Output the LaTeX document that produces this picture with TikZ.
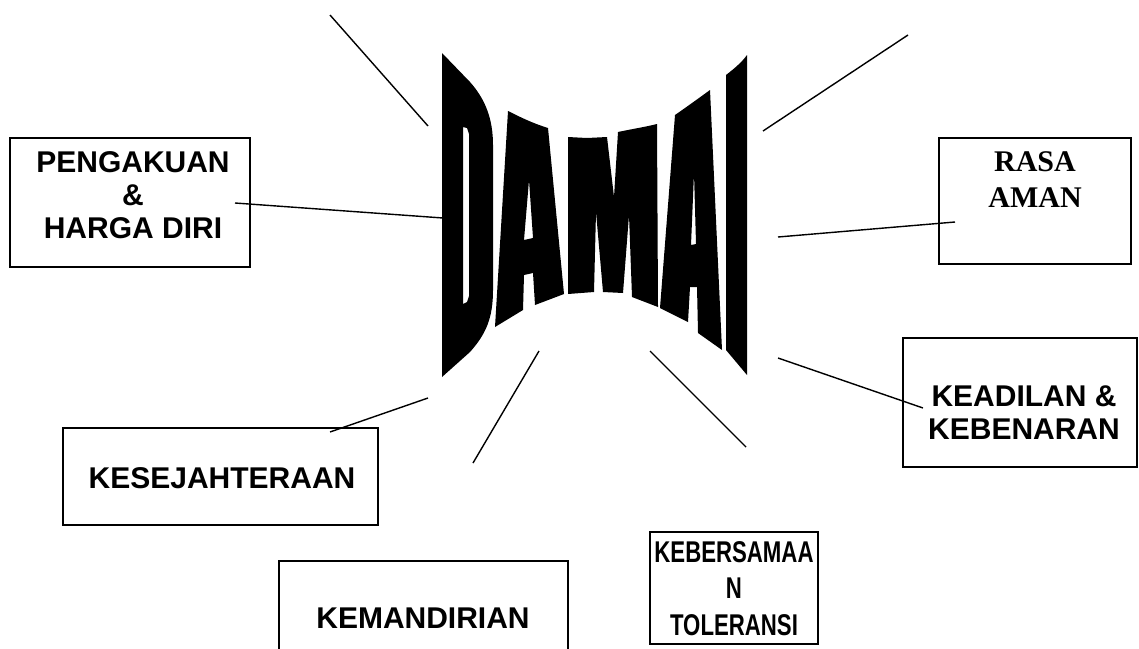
\documentclass[tikz,border=0pt]{standalone}
\usepackage{fontspec}
\usepackage{graphicx}
\newfontfamily\arialf{Liberation Sans}
\newfontfamily\timesf{Liberation Serif}
\newcommand{\narrowtxt}[1]{\scalebox{0.74}[1]{#1}}
\begin{document}
\begin{tikzpicture}[x=1pt,y=-1pt,
  box/.style={draw, line width=1.5pt, inner sep=0pt},
  lbl/.style={font=\arialf\bfseries\fontsize{30}{33}\selectfont, align=center, inner sep=0pt},
  lblserif/.style={font=\timesf\bfseries\fontsize{30}{36}\selectfont, align=center, inner sep=0pt},
  conn/.style={line width=1.4pt},
  glyph/.style={fill=black, even odd rule}]
\useasboundingbox (0,0) rectangle (1139,648);

% boxes
\node[box, minimum width=240pt, minimum height=129pt] (pengBox) at (130,202.5) {};
\node[box, minimum width=192pt, minimum height=126pt] (rasaBox) at (1035,201) {};
\node[box, minimum width=234pt, minimum height=129pt] (adilBox) at (1020,402.5) {};
\node[box, minimum width=315pt, minimum height=97pt] (sejBox) at (220.5,476.5) {};
\node[box, minimum width=289pt, minimum height=110pt] (mandBox) at (423.5,616) {};
\node[box, minimum width=168pt, minimum height=112pt] (samaBox) at (734,588) {};

% texts
\node[lbl] (pengText) at (133,195) {PENGAKUAN\\\&\\HARGA DIRI};
\node[lblserif] (rasaText) at (1035,180) {RASA\\AMAN};
\node[lbl] (adilText) at (1024,412.5) {KEADILAN \&\\KEBENARAN};
\node[lbl] (sejText) at (222,478) {KESEJAHTERAAN};
\node[lbl] (mandText) at (423,618) {KEMANDIRIAN};
\node[lbl, font=\arialf\bfseries\fontsize{30}{36.5}\selectfont] (samaText) at (734,588.5)
  {\narrowtxt{KEBERSAMAA}\\\narrowtxt{N}\\\narrowtxt{TOLERANSI}};

% connector end points
\coordinate (tlA) at (330,15);   \coordinate (tlB) at (428,126);
\coordinate (trA) at (908,35);   \coordinate (trB) at (763,131);
\coordinate (pgA) at (235,203);  \coordinate (pgB) at (443,218);
\coordinate (rsA) at (955,222);  \coordinate (rsB) at (778,237);
\coordinate (adA) at (923,408);  \coordinate (adB) at (778,358);
\coordinate (sjA) at (330,432);  \coordinate (sjB) at (428,398);
\coordinate (mdA) at (473,463);  \coordinate (mdB) at (539,351);
\coordinate (smA) at (746,447);  \coordinate (smB) at (650,351);

\draw[conn] (tlA) -- (tlB);
\draw[conn] (trA) -- (trB);
\draw[conn] (pgA) -- (pgB);
\draw[conn] (rsA) -- (rsB);
\draw[conn] (adA) -- (adB);
\draw[conn] (sjA) -- (sjB);
\draw[conn] (mdA) -- (mdB);
\draw[conn] (smA) -- (smB);

% DAMAI word art
% D
\path[glyph] (442,53) -- (470,82) .. controls (486,100) and (493,120) .. (493,145)
  -- (493,290) .. controls (493,318) and (486,334) .. (470,352) -- (442,377) -- cycle
  (463,127) -- (467,128) -- (469,134) -- (469,296) -- (467,302) -- (463,304) -- cycle;
% A
\path[glyph] (508,111) .. controls (520,117) and (532,123) .. (548,128) -- (564,294)
  -- (535,305) -- (533,273) -- (524,275) -- (523,310) -- (495,327) -- cycle
  (529,180) -- (533,238) -- (524,240) -- cycle;
% M
\path[glyph] (568,137) -- (587,138) -- (607,137) -- (614,197) -- (618,132)
  .. controls (632,129) and (645,127) .. (657,124) -- (658,307) -- (632,297) -- (629,215)
  -- (623,293) -- (603,292) -- (596,212) -- (594,292) -- (568,294) -- cycle;
% A
\path[glyph] (675,115) .. controls (688,106) and (699,98) .. (710,90) -- (722,350)
  -- (698,333) -- (697,287) -- (690,287) -- (688,322) -- (660,308) -- cycle
  (694,173) -- (696,244) -- (691,245) -- cycle;
% I
\path[glyph] (726,75) .. controls (735,68) and (742,62) .. (747,55) -- (747,375)
  -- (726,350) -- cycle;
\end{tikzpicture}
\end{document}
